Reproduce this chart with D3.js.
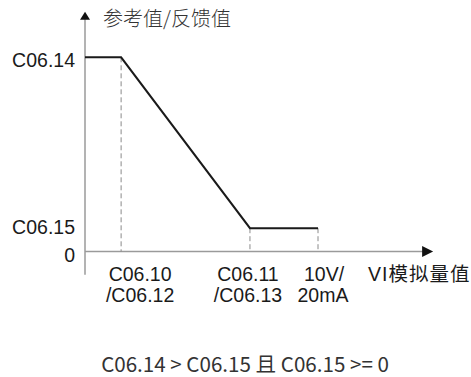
<!DOCTYPE html>
<html><head><meta charset="utf-8">
<script src="https://cdn.jsdelivr.net/npm/d3@7"></script>
<style>body{margin:0;background:#fff}svg{display:block}</style>
</head><body>
<svg id="c" width="471" height="377"></svg>
<script>
// data
const lineX = [0, 1.55, 7.08, 10];
const lineY = [100, 100, 12, 12];
const yTickValues = [100, 12, 0];
const yTickLabels = ["C06.14", "C06.15", "0"];
const xTickValues = [1.55, 7.08, 10];
const xTickLabels = [["C06.10", "/C06.12"], ["C06.11", "/C06.13"], ["10V/", "20mA"]];
const yTitle = "参考值/反馈值";
const xTitle = "VI模拟量值";
const note = "C06.14 > C06.15 且 C06.15 >= 0";

const svg = d3.select("#c");
const x = d3.scaleLinear().domain([0, 10]).range([85, 318]);
const y = d3.scaleLinear().domain([0, 100]).range([251.5, 57.3]);
const xMax = 14.94, yMax = 123.5, yMin = -12;

const axisCol = "#9a9a9a";
// axes
svg.append("line").attr("x1", x(0)).attr("x2", x(xMax) - 10).attr("y1", y(0)).attr("y2", y(0))
  .attr("stroke", axisCol).attr("stroke-width", 1.5);
svg.append("line").attr("x1", x(0)).attr("x2", x(0)).attr("y1", y(yMin)).attr("y2", y(yMax) + 6)
  .attr("stroke", axisCol).attr("stroke-width", 1.5);
// arrows
const ax = x(xMax), ay = y(0);
svg.append("path").attr("d", `M${ax},${ay} L${ax-11},${ay-5.5} L${ax-11},${ay+5.5} Z`).attr("fill", "#111");
const tx = x(0), ty = y(yMax);
svg.append("path").attr("d", `M${tx},${ty} L${tx-5},${ty+8} L${tx+5},${ty+8} Z`).attr("fill", "#111");

// dashed guides
xTickValues.forEach((v, i) => {
  const yi = lineY[i + 1];
  svg.append("line").attr("x1", x(v)).attr("x2", x(v)).attr("y1", y(yi)).attr("y2", y(0))
    .attr("stroke", "#8a8a8a").attr("stroke-width", 1).attr("stroke-dasharray", "5,3");
});

// main line
const pts = lineX.map((v, i) => [x(v), y(lineY[i])]);
svg.append("path").attr("d", d3.line()(pts)).attr("fill", "none")
  .attr("stroke", "#1a1a1a").attr("stroke-width", 2);

const font = "'Liberation Sans', Arial, sans-serif";
// y tick labels
const yOff = [9.3, 6.2, 10.5];
yTickValues.forEach((v, i) => {
  svg.append("text").attr("x", 75).attr("y", y(v) + yOff[i]).attr("text-anchor", "end")
    .attr("font-family", font).attr("font-size", 19.5).attr("fill", "#1a1a1a").text(yTickLabels[i]);
});
// x tick labels
const xOff = [19, -2, 6];
xTickValues.forEach((v, i) => {
  const t = svg.append("text").attr("text-anchor", "middle").attr("font-family", font)
    .attr("font-size", 19.5).attr("fill", "#1a1a1a");
  t.append("tspan").attr("x", x(v) + xOff[i]).attr("y", 280.5).text(xTickLabels[i][0]);
  t.append("tspan").attr("x", x(v) + xOff[i] - (i===2?1:0)).attr("y", 301.5).text(xTickLabels[i][1]);
});
// axis titles
svg.append("text").attr("x", 368).attr("y", 281).attr("font-family", font + ", 'Noto Sans CJK SC'")
  .attr("font-size", 19.5).attr("letter-spacing", 1).attr("fill", "#1a1a1a").text(xTitle);
svg.append("text").attr("x", 103).attr("y", 25.5).attr("font-family", "'Noto Sans CJK SC', sans-serif")
  .attr("font-weight", 300).attr("letter-spacing", 0)
  .attr("font-size", 20).attr("fill", "#333").text(yTitle);
// note
svg.append("text").attr("x", 245).attr("y", 371.5).attr("text-anchor", "middle")
  .attr("font-family", "'Noto Sans CJK SC', 'Noto Sans', sans-serif")
  .attr("font-size", 20.6).attr("fill", "#333").text(note);
</script>
</body></html>
